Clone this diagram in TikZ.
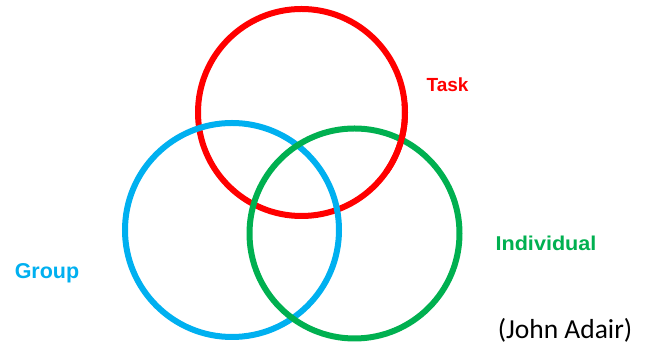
\documentclass[tikz,border=0pt]{standalone}
\usepackage{fontspec}
\setmainfont{Liberation Sans}
\newfontfamily\calib{Carlito}
\definecolor{cred}{HTML}{FF0000}
\definecolor{cblue}{HTML}{00B0F0}
\definecolor{cgreen}{HTML}{00B050}
\begin{document}
\begin{tikzpicture}[x=1pt,y=1pt,
  ring/.style={circle,draw=#1,line width=6pt,inner sep=0pt,outer sep=0pt},
  lab/.style={text=#1,font=\bfseries\fontsize{20}{24}\selectfont,inner sep=0pt}]
\useasboundingbox[fill=white] (0,0) rectangle (649,352);
\node[ring=cred,minimum size=207pt] (task) at (301.5,239.5) {};
\node[ring=cblue,minimum size=214pt] (group) at (232,122) {};
\node[ring=cgreen,minimum size=210pt] (indiv) at (354.5,118.5) {};
\draw[cred,line width=6pt] (task.-35) arc[start angle=-35,end angle=5,radius=103.5pt];
\node[lab=cred,font=\bfseries\fontsize{19}{23}\selectfont] (tasklab) at (447.5,267) {Task};
\node[lab=cgreen] (indivlab) at (546,109) {\scalebox{1.08}[1]{Individual}};
\node[lab=cblue,font=\bfseries\fontsize{21.5}{26}\selectfont] (grouplab) at (47,79) {Group};
\node[inner sep=0pt,font=\calib\fontsize{27.5}{32}\selectfont] (adair) at (565,22) {(John Adair)};
\end{tikzpicture}
\end{document}
